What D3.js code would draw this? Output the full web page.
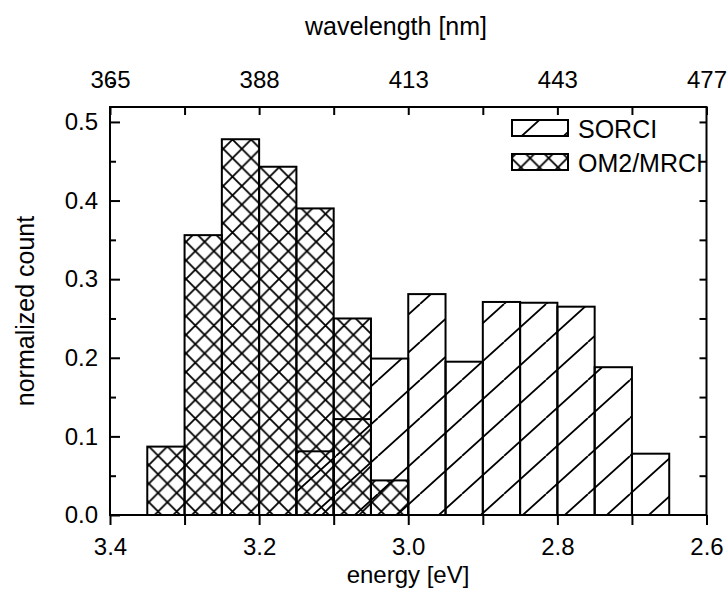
<!DOCTYPE html>
<html>
<head>
<meta charset="utf-8">
<script src="https://cdn.jsdelivr.net/npm/d3@7"></script>
<style>
  body { margin: 0; background: #fff; }
  text { font-family: "Liberation Sans", Arial, sans-serif; fill: #000; }
</style>
</head>
<body>
<div id="chart"></div>
<script>
/* DATA */
// bin centres in eV, each bin is 0.05 eV wide
const binCenters = [3.325, 3.275, 3.225, 3.175, 3.125, 3.075, 3.025, 2.975, 2.925, 2.875, 2.825, 2.775, 2.725, 2.675];
const binWidth = 0.05;
const sorciCounts = [0, 0, 0, 0, 0.081, 0.122, 0.199, 0.281, 0.195, 0.271, 0.270, 0.265, 0.188, 0.078];
const om2Counts = [0.087, 0.356, 0.478, 0.443, 0.390, 0.250, 0.044, 0, 0, 0, 0, 0, 0, 0];
const seriesNames = ["SORCI", "OM2/MRCI"];
const energyTicks = [3.4, 3.2, 3.0, 2.8, 2.6];
const energyMinorTicks = [3.3, 3.1, 2.9, 2.7];
const wavelengthLabels = [365, 388, 413, 443, 477];
const countTicks = [0.0, 0.1, 0.2, 0.3, 0.4, 0.5];

/* CONSTANTS */
const width = 728, height = 589;
const margin = { top: 107, right: 21.5, bottom: 74, left: 110 };

const svg = d3.select("#chart").append("svg")
  .attr("width", width)
  .attr("height", height);

svg.append("rect").attr("width", width).attr("height", height).attr("fill", "#fff");

const xScale = d3.scaleLinear()
  .domain([3.4, 2.6])
  .range([margin.left, width - margin.right]);

const yScale = d3.scaleLinear()
  .domain([0, 0.519])
  .range([height - margin.bottom, margin.top]);

// hatch patterns
const defs = svg.append("defs");

const dW = 42, dH = 38;
defs.append("pattern")
  .attr("id", "diag")
  .attr("patternUnits", "userSpaceOnUse")
  .attr("width", dW).attr("height", dH)
  .append("path")
  .attr("d", `M${-dW},${dH} L0,0 M0,${dH} L${dW},0 M${dW},${dH} L${2 * dW},0`)
  .attr("stroke", "#000").attr("stroke-width", 1.8).attr("fill", "none");

const cW = 18.6;
let crossPath = "";
for (let k = -1; k <= 1; k++) {
  crossPath += `M${-cW},${-cW + k * cW} L${2 * cW},${2 * cW + k * cW} `;
  crossPath += `M${-cW},${2 * cW + k * cW} L${2 * cW},${-cW + k * cW} `;
}
defs.append("pattern")
  .attr("id", "cross")
  .attr("patternUnits", "userSpaceOnUse")
  .attr("width", cW).attr("height", cW)
  .append("path")
  .attr("d", crossPath)
  .attr("stroke", "#000").attr("stroke-width", 1.8).attr("fill", "none");

/* BARS */
function drawBars(counts, pattern, cls) {
  const rows = binCenters.map((c, i) => ({ c, v: counts[i] })).filter(d => d.v > 0);
  svg.append("g").attr("class", cls)
    .selectAll("rect")
    .data(rows)
    .join("rect")
    .attr("x", d => xScale(d.c + binWidth / 2))
    .attr("width", d => xScale(d.c - binWidth / 2) - xScale(d.c + binWidth / 2))
    .attr("y", d => yScale(d.v))
    .attr("height", d => yScale(0) - yScale(d.v))
    .attr("fill", `url(#${pattern})`)
    .attr("stroke", "#000")
    .attr("stroke-width", 2);
}
drawBars(sorciCounts, "diag", "sorci");
drawBars(om2Counts, "cross", "om2");

/* LEGEND */
const legend = svg.append("g").attr("class", "legend");
const legendPatterns = ["diag", "cross"];
seriesNames.forEach((name, i) => {
  const ly = 120 + i * 34;
  legend.append("rect")
    .attr("x", 512).attr("y", ly)
    .attr("width", 56).attr("height", 16)
    .attr("fill", `url(#${legendPatterns[i]})`)
    .attr("stroke", "#000").attr("stroke-width", 2);
  legend.append("text")
    .attr("x", 578).attr("y", ly + 18)
    .style("font-size", "25px")
    .text(name);
});

/* AXES */
const fmt1 = d3.format(".1f");
const axisStyle = g => {
  g.select(".domain").remove();
  g.selectAll(".tick line").attr("stroke", "#000").attr("stroke-width", 2);
  g.selectAll(".tick text").style("font-size", "24px").attr("fill", "#000");
};

// bottom: outward ticks
svg.append("g")
  .attr("transform", `translate(0,${yScale(0)})`)
  .call(d3.axisBottom(xScale).tickValues(energyTicks).tickSize(10).tickPadding(13).tickFormat(fmt1))
  .call(axisStyle);
svg.append("g")
  .attr("transform", `translate(0,${yScale(0)})`)
  .call(d3.axisBottom(xScale).tickValues(energyMinorTicks).tickSize(10).tickFormat(""))
  .call(axisStyle);

// top: inward ticks, wavelength labels
svg.append("g")
  .attr("transform", `translate(0,${margin.top})`)
  .call(d3.axisTop(xScale).tickValues(energyTicks).tickSize(-8).tickPadding(19)
    .tickFormat((d, i) => wavelengthLabels[i]))
  .call(axisStyle);
svg.append("g")
  .attr("transform", `translate(0,${margin.top})`)
  .call(d3.axisTop(xScale).tickValues(energyMinorTicks).tickSize(-8).tickFormat(""))
  .call(axisStyle);

// left: inward ticks
svg.append("g")
  .attr("transform", `translate(${margin.left},0)`)
  .call(d3.axisLeft(yScale).tickValues(countTicks).tickSize(-10).tickPadding(12).tickFormat(fmt1))
  .call(axisStyle);
svg.append("g")
  .attr("transform", `translate(${margin.left},0)`)
  .call(d3.axisLeft(yScale).tickValues(countTicks.map(d => d + 0.05)).tickSize(-6).tickFormat(""))
  .call(axisStyle);

// right: inward ticks
svg.append("g")
  .attr("transform", `translate(${width - margin.right},0)`)
  .call(d3.axisRight(yScale).tickValues(d3.range(0.05, 0.52, 0.05)).tickSize(-7).tickFormat(""))
  .call(axisStyle);

// frame
svg.append("rect")
  .attr("x", margin.left).attr("y", margin.top)
  .attr("width", width - margin.right - margin.left)
  .attr("height", yScale(0) - margin.top)
  .attr("fill", "none").attr("stroke", "#000").attr("stroke-width", 2);

/* TITLES */
svg.append("text")
  .attr("x", 396).attr("y", 35)
  .attr("text-anchor", "middle")
  .style("font-size", "25px")
  .text("wavelength [nm]");

svg.append("text")
  .attr("x", 408).attr("y", 583)
  .attr("text-anchor", "middle")
  .style("font-size", "24px")
  .text("energy [eV]");

svg.append("text")
  .attr("transform", `translate(34,${(margin.top + yScale(0)) / 2}) rotate(-90)`)
  .attr("text-anchor", "middle")
  .style("font-size", "25px")
  .text("normalized count");
</script>
</body>
</html>
